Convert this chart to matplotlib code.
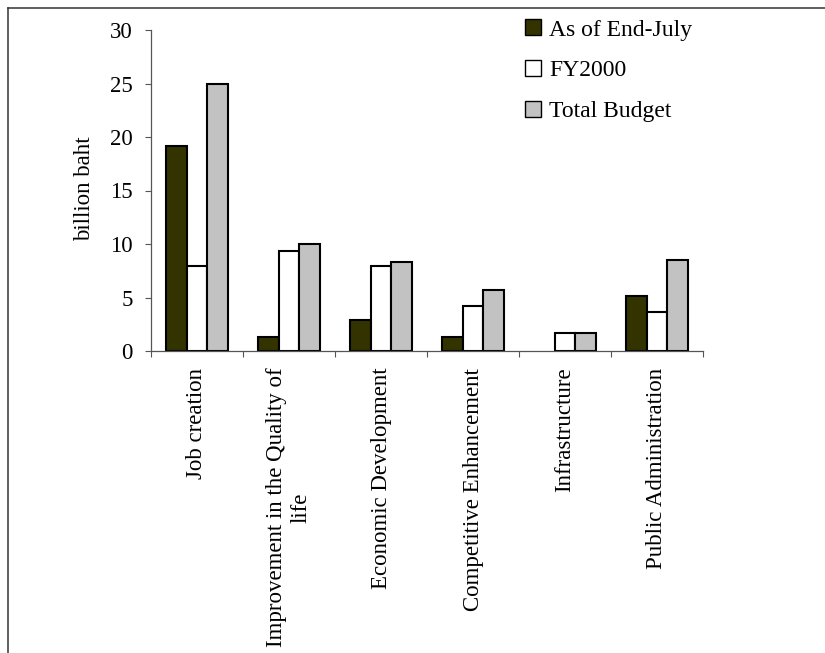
import matplotlib
matplotlib.use("Agg")
import matplotlib.pyplot as plt
import numpy as np
from matplotlib.patches import Patch
from matplotlib.lines import Line2D

plt.rcParams['font.family'] = ['Liberation Serif', 'DejaVu Serif']

# data (billion baht)
categories = ['Job creation', 'Improvement in the Quality of\nlife',
              'Economic Development', 'Competitive Enhancement',
              'Infrastructure', 'Public Administration']
end_july = [19.2, 1.3, 2.9, 1.3, 0.0, 5.1]
fy2000 = [7.9, 9.3, 7.9, 4.2, 1.7, 3.6]
total_budget = [25.0, 10.0, 8.3, 5.7, 1.7, 8.5]
series_names = ['As of End-July', 'FY2000', 'Total Budget']

fig = plt.figure(figsize=(8.25, 6.53), dpi=100)
ax = fig.add_axes([151/825, 1-351/653, (703-151)/825, (351-30)/653])

x = np.arange(len(categories))
w = 1/4.5
dark = '#333300'
grey = '#c2c2c2'


def nz(vals):
    # zero-height bars are not drawn in the original
    return [v if v > 0 else np.nan for v in vals]


ax.bar(x - w, nz(end_july), w, color=dark, edgecolor='black', linewidth=1.5)
ax.bar(x, nz(fy2000), w, color='white', edgecolor='black', linewidth=1.5)
ax.bar(x + w, nz(total_budget), w, color=grey, edgecolor='black', linewidth=1.5)

ax.set_xlim(-0.5, 5.5)
ax.set_ylim(0, 30)
ax.set_yticks(range(0, 31, 5))
ax.tick_params(axis='y', direction='out', length=4, width=0.8, pad=9,
               labelsize=16.5, color='#555555')

# ticks at category boundaries, labels at centres
ax.set_xticks(np.arange(-0.5, 6, 1))
ax.set_xticklabels([])
ax.set_xticks(x, minor=True)
ax.set_xticklabels(categories, minor=True, rotation=90, fontsize=16.5,
                   ha='center', va='top', multialignment='center')
ax.tick_params(axis='x', which='major', direction='out', length=4, width=0.8,
               color='#555555')
ax.tick_params(axis='x', which='minor', length=0, pad=12)

for s in ['top', 'right']:
    ax.spines[s].set_visible(False)
for s in ['left', 'bottom']:
    ax.spines[s].set_color('#555555')
    ax.spines[s].set_linewidth(0.9)

ax.set_ylabel('billion baht', fontsize=16.5)
ax.yaxis.set_label_coords(-0.102, 0.505)

handles = [Patch(facecolor=dark, edgecolor='black', linewidth=1.0),
           Patch(facecolor='white', edgecolor='black', linewidth=1.0),
           Patch(facecolor=grey, edgecolor='black', linewidth=1.0)]
fig.legend(handles, series_names, loc='upper left',
           bbox_to_anchor=(516/825, 1-10/653), frameon=False, fontsize=17,
           handlelength=0.65, handleheight=0.65, handletextpad=0.35,
           labelspacing=0.83, borderaxespad=0)

# outer frame (cropped at right and bottom)
fig.add_artist(Line2D([8/825, 8/825], [0, 1-8/653], color='#333333', lw=1.1))
fig.add_artist(Line2D([8/825, 1], [1-8/653, 1-8/653], color='#333333', lw=1.1))

fig.savefig('out.png', dpi=100)
